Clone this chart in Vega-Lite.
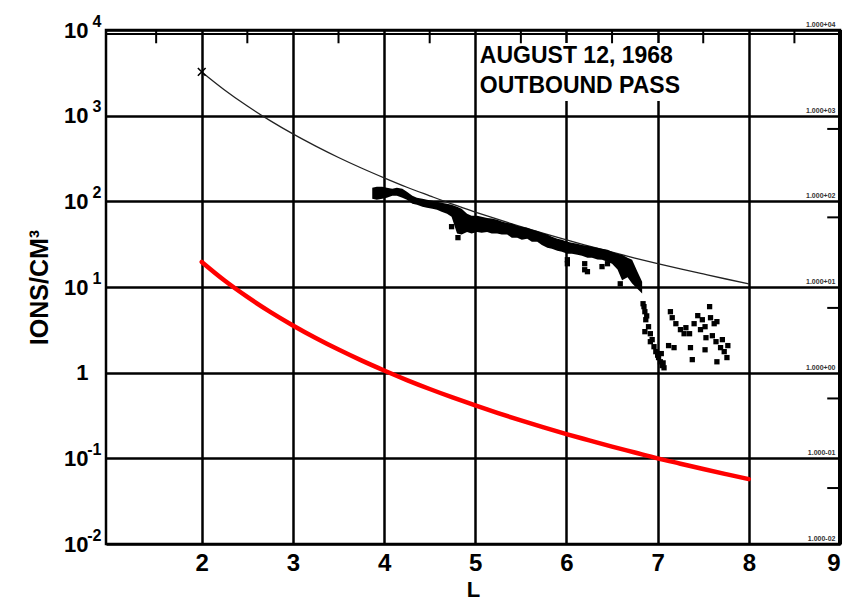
{
  "$schema": "https://vega.github.io/schema/vega-lite/v6.json",
  "width": 734,
  "height": 514,
  "autosize": {"type": "none"},
  "padding": {"left": 106, "top": 30, "right": 12, "bottom": 59},
  "background": "white",
  "datasets": {
    "curve": [{"L":2,"n":3240},{"L":2.25,"n":1997},{"L":2.5,"n":1295},{"L":2.75,"n":875},{"L":3,"n":612},{"L":3.25,"n":441},{"L":3.5,"n":325},{"L":3.75,"n":245},{"L":4,"n":188},{"L":4.25,"n":146},{"L":4.5,"n":116},{"L":4.75,"n":92.6},{"L":5,"n":75},{"L":5.25,"n":61.4},{"L":5.5,"n":50.7},{"L":5.75,"n":42.2},{"L":6,"n":35.4},{"L":6.25,"n":30},{"L":6.5,"n":25.5},{"L":6.75,"n":21.8},{"L":7,"n":18.8},{"L":7.25,"n":16.3},{"L":7.5,"n":14.2},{"L":7.75,"n":12.4},{"L":8,"n":10.9}],
    "red": [{"L":2,"n":19.6},{"L":2.25,"n":11.9},{"L":2.5,"n":7.66},{"L":2.75,"n":5.13},{"L":3,"n":3.56},{"L":3.25,"n":2.54},{"L":3.5,"n":1.86},{"L":3.75,"n":1.39},{"L":4,"n":1.06},{"L":4.25,"n":0.82},{"L":4.5,"n":0.645},{"L":4.75,"n":0.514},{"L":5,"n":0.414},{"L":5.25,"n":0.337},{"L":5.5,"n":0.277},{"L":5.75,"n":0.23},{"L":6,"n":0.192},{"L":6.25,"n":0.162},{"L":6.5,"n":0.137},{"L":6.75,"n":0.117},{"L":7,"n":0.1},{"L":7.25,"n":0.0866},{"L":7.5,"n":0.075},{"L":7.75,"n":0.0654},{"L":8,"n":0.0572}],
    "band": [{"L":3.87,"hi":144,"lo":107},{"L":3.92,"hi":148,"lo":104.5},{"L":3.98,"hi":148,"lo":107},{"L":4.03,"hi":144,"lo":110},{"L":4.09,"hi":140,"lo":116},{"L":4.14,"hi":144,"lo":116},{"L":4.2,"hi":140,"lo":110},{"L":4.25,"hi":129.5,"lo":104.5},{"L":4.31,"hi":116,"lo":94},{"L":4.36,"hi":110,"lo":91},{"L":4.42,"hi":107,"lo":86.5},{"L":4.47,"hi":104.5,"lo":84},{"L":4.53,"hi":101.7,"lo":82},{"L":4.58,"hi":99,"lo":80},{"L":4.63,"hi":96,"lo":75.6},{"L":4.69,"hi":94,"lo":71.7},{"L":4.74,"hi":91,"lo":66},{"L":4.8,"hi":86.5,"lo":42},{"L":4.85,"hi":82,"lo":41},{"L":4.91,"hi":71.7,"lo":44},{"L":4.96,"hi":68,"lo":42},{"L":5.02,"hi":68,"lo":44},{"L":5.07,"hi":66,"lo":43},{"L":5.13,"hi":64,"lo":44},{"L":5.18,"hi":63,"lo":42},{"L":5.24,"hi":61,"lo":42},{"L":5.29,"hi":58,"lo":41},{"L":5.35,"hi":56,"lo":41},{"L":5.4,"hi":55,"lo":37.7},{"L":5.46,"hi":52,"lo":37.7},{"L":5.51,"hi":50.6,"lo":35.7},{"L":5.57,"hi":49,"lo":36.7},{"L":5.62,"hi":47,"lo":33.8},{"L":5.68,"hi":45,"lo":33.8},{"L":5.73,"hi":43,"lo":31},{"L":5.79,"hi":41,"lo":28.8},{"L":5.84,"hi":38.7,"lo":28},{"L":5.9,"hi":36.7,"lo":26.5},{"L":5.95,"hi":35.7,"lo":25.8},{"L":6.01,"hi":33.8,"lo":24.5},{"L":6.06,"hi":32.9,"lo":24.5},{"L":6.12,"hi":32,"lo":23.8},{"L":6.17,"hi":31,"lo":23.2},{"L":6.23,"hi":30.4,"lo":22},{"L":6.28,"hi":29.5,"lo":22},{"L":6.34,"hi":28.8,"lo":21},{"L":6.39,"hi":28,"lo":20.8},{"L":6.45,"hi":27.3,"lo":19.7},{"L":6.5,"hi":25.8,"lo":18.7},{"L":6.56,"hi":24.5,"lo":16},{"L":6.61,"hi":23.8,"lo":12},{"L":6.67,"hi":22,"lo":13},{"L":6.72,"hi":20.8,"lo":11},{"L":6.78,"hi":15,"lo":9.5},{"L":6.83,"hi":11.5,"lo":8.4}],
    "pts": [{"L":6.01,"n":18.7},{"L":6.01,"n":20.8},{"L":6.2,"n":15.9},{"L":6.2,"n":18.7},{"L":6.23,"n":15.1},{"L":6.39,"n":17.3},{"L":6.45,"n":18.7},{"L":6.59,"n":10.9},{"L":4.81,"n":37.7},{"L":4.74,"n":50.6},
      {"L":6.84,"n":6.38},{"L":6.86,"n":5.15},{"L":6.87,"n":4.15},{"L":6.9,"n":3.44},{"L":6.92,"n":2.85},{"L":6.94,"n":2.43},{"L":6.96,"n":2.01},{"L":6.98,"n":1.76},{"L":7.01,"n":1.5},{"L":7.03,"n":1.34},{"L":7.05,"n":1.21},{"L":7.07,"n":1.14},{"L":7.04,"n":1.67},{"L":6.86,"n":3.01},{"L":6.92,"n":2.3},{"L":6.85,"n":5.9},{"L":6.88,"n":4.6},{"L":7.0,"n":1.6},{"L":7.06,"n":1.3},
      {"L":7.14,"n":5.15},{"L":7.16,"n":4.38},{"L":7.2,"n":3.73},{"L":7.25,"n":3.18},{"L":7.29,"n":2.85},{"L":7.35,"n":2.85},{"L":7.4,"n":3.73},{"L":7.44,"n":4.63},{"L":7.49,"n":4.15},{"L":7.52,"n":3.44},{"L":7.57,"n":5.9},{"L":7.58,"n":4.38},{"L":7.62,"n":3.73},{"L":7.65,"n":3.94},{"L":7.6,"n":2.7},{"L":7.64,"n":2.3},{"L":7.69,"n":1.96},{"L":7.73,"n":1.76},{"L":7.76,"n":1.5},{"L":7.77,"n":2.07},{"L":7.36,"n":1.96},{"L":7.38,"n":1.42},{"L":7.52,"n":1.85},{"L":7.18,"n":1.96},{"L":7.12,"n":2.07},{"L":7.65,"n":1.34},{"L":7.31,"n":3.35},{"L":7.47,"n":3.18},{"L":7.53,"n":2.56},{"L":7.71,"n":2.43}],
    "rticks": [{"n":700},{"n":65},{"n":5.7},{"n":0.5},{"n":0.045}],
    "tticks": [{"L":1.5},{"L":2.5},{"L":3.5},{"L":4.5},{"L":5.5},{"L":6.5},{"L":7.5},{"L":8.5}],
    "rlabels": [{"n":10000,"t":"1.000+04"},{"n":1000,"t":"1.000+03"},{"n":100,"t":"1.000+02"},{"n":10,"t":"1.000+01"},{"n":1,"t":"1.000+00"},{"n":0.1,"t":"1.000-01"},{"n":0.01,"t":"1.000-02"}],
    "note": [{"t":"AUGUST 12, 1968","n":5000},{"t":"OUTBOUND PASS","n":2200}]
  },
  "layer": [
    {
      "data": {"name": "curve"},
      "mark": {"type": "line", "color": "#222", "strokeWidth": 1.3, "interpolate": "monotone"},
      "encoding": {
        "x": {"field": "L", "type": "quantitative", "scale": {"type": "linear", "domain": [0.95, 9], "nice": false, "zero": false},
          "axis": {"values": [2,3,4,5,6,7,8,9], "title": "L", "labelFontSize": 24, "labelPadding": 7, "titleFontSize": 22, "titlePadding": 4, "format": "d"}},
        "y": {"field": "n", "type": "quantitative", "scale": {"type": "log", "domain": [0.01, 10000], "nice": false},
          "axis": {"values": [0.01,0.1,1,10,100,1000,10000], "labelExpr": "datum.value > 0.99 && datum.value < 1.01 ? '1' : '10'", "labelFontSize": 22, "labelPadding": 18, "title": "IONS/CM³", "titleFontSize": 25, "titleAngle": -90, "titleX": -67, "titleBaseline": "middle"}}
      }
    },
    {
      "data": {"name": "red"},
      "mark": {"type": "line", "color": "#ff0000", "strokeWidth": 4.5, "strokeCap": "round", "interpolate": "monotone"},
      "encoding": {
        "x": {"field": "L", "type": "quantitative", "scale": {"type": "linear", "domain": [0.95, 9], "nice": false, "zero": false}},
        "y": {"field": "n", "type": "quantitative", "scale": {"type": "log", "domain": [0.01, 10000], "nice": false},
          "axis": {"orient": "left", "grid": false, "title": null, "values": [0.01,0.1,1,10,100,1000,10000], "labelExpr": "datum.value > 9000 ? '4' : datum.value > 900 ? '3' : datum.value > 90 ? '2' : datum.value > 9 ? '1' : datum.value > 0.9 ? '' : datum.value > 0.09 ? '-1' : '-2'", "labelFontSize": 16, "labelPadding": 5, "labelOffset": -9}}
      }
    },
    {
      "data": {"name": "band"},
      "mark": {"type": "area", "color": "#000", "interpolate": "linear"},
      "encoding": {
        "x": {"field": "L", "type": "quantitative", "scale": {"type": "linear", "domain": [0.95, 9], "nice": false, "zero": false}},
        "y": {"field": "lo", "type": "quantitative", "scale": {"type": "log", "domain": [0.01, 10000], "nice": false}, "axis": null},
        "y2": {"field": "hi"}
      }
    },
    {
      "data": {"name": "pts"},
      "mark": {"type": "point", "shape": "square", "filled": true, "color": "#000", "size": 28, "opacity": 1},
      "encoding": {
        "x": {"field": "L", "type": "quantitative", "scale": {"type": "linear", "domain": [0.95, 9], "nice": false, "zero": false}},
        "y": {"field": "n", "type": "quantitative", "scale": {"type": "log", "domain": [0.01, 10000], "nice": false}, "axis": null}
      }
    },
    {
      "data": {"values": [{"L": 2, "n": 3240}]},
      "mark": {"type": "point", "shape": "M-1,-1L1,1M-1,1L1,-1", "filled": false, "color": "#000", "strokeWidth": 1.6, "size": 60, "opacity": 1},
      "encoding": {
        "x": {"field": "L", "type": "quantitative", "scale": {"type": "linear", "domain": [0.95, 9], "nice": false, "zero": false}},
        "y": {"field": "n", "type": "quantitative", "scale": {"type": "log", "domain": [0.01, 10000], "nice": false}, "axis": null}
      }
    },
    {
      "data": {"values": [{}]},
      "mark": {"type": "rect", "color": "white"},
      "encoding": {
        "x": {"datum": 5.03, "type": "quantitative", "scale": {"type": "linear", "domain": [0.95, 9], "nice": false, "zero": false}},
        "x2": {"datum": 7.25},
        "y": {"datum": 7050, "type": "quantitative", "scale": {"type": "log", "domain": [0.01, 10000], "nice": false}, "axis": null},
        "y2": {"datum": 1480}
      }
    },
    {
      "data": {"name": "note"},
      "mark": {"type": "text", "align": "left", "baseline": "middle", "fontSize": 23, "fontWeight": "bold", "font": "Liberation Sans Narrow, Liberation Sans, sans-serif", "color": "#000"},
      "encoding": {
        "x": {"datum": 5.05, "type": "quantitative", "scale": {"type": "linear", "domain": [0.95, 9], "nice": false, "zero": false}},
        "y": {"field": "n", "type": "quantitative", "scale": {"type": "log", "domain": [0.01, 10000], "nice": false}, "axis": null},
        "text": {"field": "t"}
      }
    },
    {
      "data": {"values": [{}]},
      "mark": {"type": "rule", "color": "#000", "strokeWidth": 4},
      "encoding": {
        "x": {"datum": 9, "type": "quantitative", "scale": {"type": "linear", "domain": [0.95, 9], "nice": false, "zero": false}}
      }
    },
    {
      "data": {"values": [{}]},
      "mark": {"type": "rule", "color": "#000", "strokeWidth": 2},
      "encoding": {
        "y": {"datum": 8980, "type": "quantitative", "scale": {"type": "log", "domain": [0.01, 10000], "nice": false}, "axis": null}
      }
    },
    {
      "data": {"name": "tticks"},
      "mark": {"type": "rule", "color": "#000", "strokeWidth": 2},
      "encoding": {
        "x": {"field": "L", "type": "quantitative", "scale": {"type": "linear", "domain": [0.95, 9], "nice": false, "zero": false}},
        "y": {"datum": 10000, "type": "quantitative", "scale": {"type": "log", "domain": [0.01, 10000], "nice": false}, "axis": null},
        "y2": {"datum": 7000}
      }
    },
    {
      "data": {"name": "rticks"},
      "mark": {"type": "rule", "color": "#000", "strokeWidth": 2},
      "encoding": {
        "x": {"datum": 8.86, "type": "quantitative", "scale": {"type": "linear", "domain": [0.95, 9], "nice": false, "zero": false}},
        "x2": {"datum": 9},
        "y": {"field": "n", "type": "quantitative", "scale": {"type": "log", "domain": [0.01, 10000], "nice": false}, "axis": null}
      }
    },
    {
      "data": {"name": "rlabels"},
      "mark": {"type": "text", "align": "right", "baseline": "bottom", "dy": -2, "fontSize": 7, "fontWeight": "bold", "font": "Liberation Sans", "color": "#333"},
      "encoding": {
        "x": {"datum": 8.95, "type": "quantitative", "scale": {"type": "linear", "domain": [0.95, 9], "nice": false, "zero": false}},
        "y": {"field": "n", "type": "quantitative", "scale": {"type": "log", "domain": [0.01, 10000], "nice": false}, "axis": null},
        "text": {"field": "t"}
      }
    }
  ],
  "resolve": {"axis": {"y": "independent"}},
  "config": {
    "view": {"stroke": "#000", "strokeWidth": 2.5},
    "axis": {
      "domain": false,
      "ticks": false,
      "tickSize": 0,
      "grid": true,
      "gridColor": "#000",
      "gridWidth": 2.5,
      "gridOpacity": 1,
      "labelFont": "Liberation Sans Narrow, Liberation Sans, sans-serif",
      "labelFontWeight": "bold",
      "labelColor": "#000",
      "titleFont": "Liberation Sans Narrow, Liberation Sans, sans-serif",
      "titleFontWeight": "bold",
      "titleColor": "#000"
    }
  }
}
